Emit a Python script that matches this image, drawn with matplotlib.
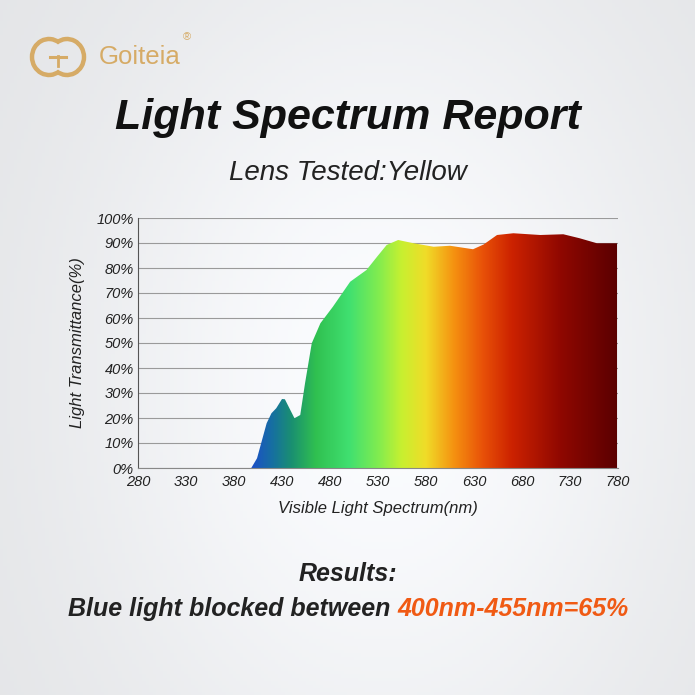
import numpy as np
import matplotlib.pyplot as plt
from matplotlib.colors import LinearSegmentedColormap
from matplotlib.patches import Arc

# transmittance curve (nm, %)
wavelength = [398, 404, 414, 419, 424, 430, 433, 443, 449, 454, 461, 470, 483, 501,
              518, 529, 539, 551, 567, 588, 605, 629, 640, 654, 671, 699, 723, 740,
              758, 779]
transmit = [0, 3.9, 17.9, 21.9, 23.9, 27.6, 27.5, 19.9, 21.2, 33.9, 49.9, 57.9, 64.5, 74.5,
            79.2, 84.5, 89.2, 91.2, 89.9, 88.5, 88.9, 87.5, 89.4, 93.2, 93.9, 93.2, 93.5, 91.9,
            89.9, 89.9]

x_ticks = [280, 330, 380, 430, 480, 530, 580, 630, 680, 730, 780]
y_ticks = [0, 10, 20, 30, 40, 50, 60, 70, 80, 90, 100]

# spectrum colour stops (position in nm, colour)
spec_stops = [(398, '#1c4fc8'), (420, '#1670a0'), (440, '#1a9070'), (465, '#30c050'),
              (500, '#40e070'), (530, '#80ec50'), (555, '#c8f030'), (580, '#f0dc28'),
              (610, '#f59010'), (640, '#e85008'), (670, '#cc2200'), (720, '#900800'),
              (780, '#5a0000')]

fam = ['Liberation Sans', 'DejaVu Sans']
plt.rcParams['font.family'] = fam

fig = plt.figure(figsize=(6.95, 6.95), dpi=100)

# soft background
bg = fig.add_axes([0, 0, 1, 1])
yy, xx = np.mgrid[0:1:200j, 0:1:200j]
glow = np.exp(-((xx - 0.55) ** 2 / 0.2 + (yy - 0.45) ** 2 / 0.4))
shade = 0.9 + 0.1 * glow
rgb = np.dstack([shade * 0.985, shade * 0.99, shade * 1.0]).clip(0, 1)
bg.imshow(rgb, extent=[0, 1, 0, 1], aspect='auto', origin='lower')
bg.set_xlim(0, 695)
bg.set_ylim(0, 695)
bg.images[0].set_extent([0, 695, 0, 695])
bg.axis('off')

ax = fig.add_axes([138 / 695, 227 / 695, 480 / 695, 250 / 695])
ax.patch.set_alpha(0)
ax.set_xlim(280, 780)
ax.set_ylim(0, 100)

lo, hi = spec_stops[0][0], spec_stops[-1][0]
cmap = LinearSegmentedColormap.from_list(
    'spec', [((p - lo) / (hi - lo), c) for p, c in spec_stops])
poly = ax.fill_between(wavelength, transmit, 0, color='none', lw=0)
grad = np.linspace(0, 1, 512).reshape(1, -1)
im = ax.imshow(grad, cmap=cmap, extent=[lo, hi, 0, 100], aspect='auto',
               origin='lower', zorder=2)
im.set_clip_path(poly.get_paths()[0], transform=ax.transData)

ax.set_xticks(x_ticks)
ax.set_yticks(y_ticks)
ax.set_yticklabels([f'{v}%' for v in y_ticks])
ax.tick_params(length=0, labelsize=10.5, colors='#222222')
ax.tick_params(axis='y', pad=3)
ax.tick_params(axis='x', pad=5)
for lab in ax.get_xticklabels() + ax.get_yticklabels():
    lab.set_fontstyle('italic')
ax.grid(axis='y', color='#9a9a9a', lw=0.8, zorder=1)
for s in ['top', 'right']:
    ax.spines[s].set_visible(False)
ax.spines['left'].set_color('#555555')
ax.spines['bottom'].set_color('#888888')
ax.set_axisbelow(True)

ax.set_xlabel('Visible Light Spectrum(nm)', fontsize=12, fontstyle='italic',
              color='#222222', labelpad=9)
ax.set_ylabel('Light Transmittance(%)', fontsize=12, fontstyle='italic',
              color='#222222', labelpad=8)

fig.text(0.5, 1 - 118 / 695, 'Light Spectrum Report', ha='center', va='center',
         fontsize=31, fontweight='bold', fontstyle='italic', color='#111111')
fig.text(0.5, 1 - 173 / 695, 'Lens Tested:Yellow', ha='center', va='center',
         fontsize=20, fontstyle='italic', color='#222222')

fig.text(0.5, 1 - 574 / 695, 'Results:', ha='center', va='center',
         fontsize=18, fontweight='bold', fontstyle='italic', color='#222222')
t1 = fig.text(68 / 695, 1 - 609 / 695, 'Blue light blocked between ', ha='left', va='center',
              fontsize=18, fontweight='bold', fontstyle='italic', color='#222222')
fig.canvas.draw()
bb = t1.get_window_extent()
fig.text(bb.x1 / 695, 1 - 609 / 695, '400nm-455nm=65%', ha='left', va='center',
         fontsize=18, fontweight='bold', fontstyle='italic', color='#f05a14')

# logo: two interlocked arcs with a bar (pixel coords, y up)
gold = '#d6ab66'
ly = 695 - 57
bg.add_patch(Arc((49, ly), 34, 36, theta1=55, theta2=305, color=gold, lw=3.2))
bg.add_patch(Arc((67, ly), 34, 36, theta1=235, theta2=125, color=gold, lw=3.2))
bg.plot([50, 66], [ly, ly], color=gold, lw=2.2)
bg.plot([58, 58], [ly - 9, ly + 1], color=gold, lw=2.0)
fig.text(99 / 695, 1 - 57 / 695, 'Goiteia', ha='left', va='center', fontsize=18.5,
         color=gold)
fig.text(187 / 695, 1 - 37 / 695, '®', ha='center', va='center', fontsize=8,
         color=gold)

fig.savefig('out.png', dpi=100)
